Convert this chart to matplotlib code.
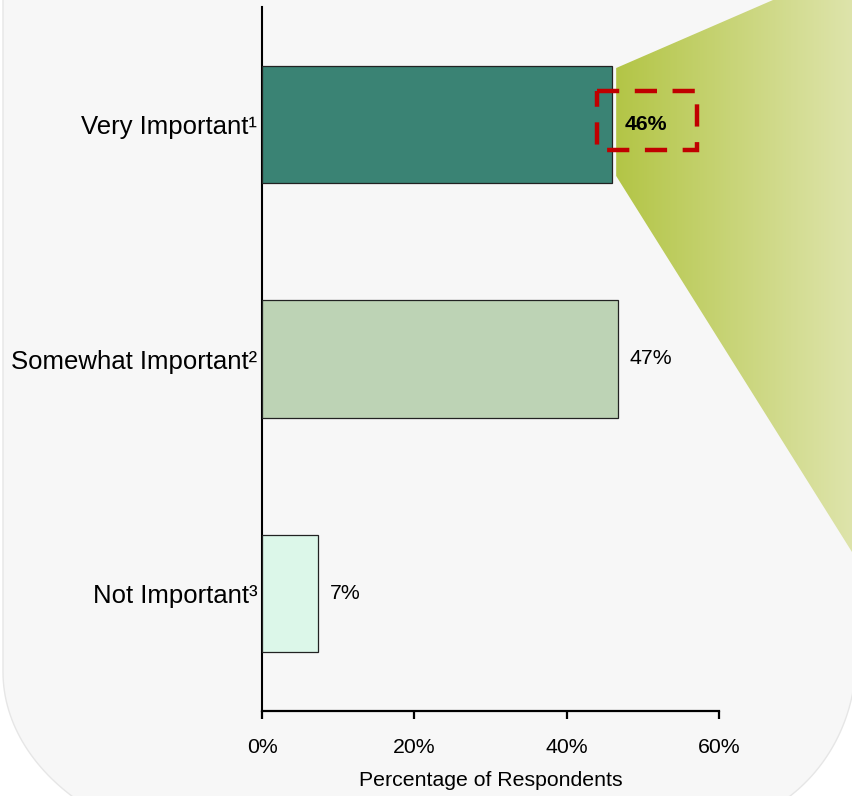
import numpy as np
import matplotlib
matplotlib.use("Agg")
import matplotlib.pyplot as plt
from matplotlib.patches import Polygon, Rectangle
from matplotlib.colors import LinearSegmentedColormap

plt.rcParams['font.family'] = ['Liberation Sans', 'DejaVu Sans']

# datos
categories = ["Very Important¹", "Somewhat Important²", "Not Important³"]
values = [46.0, 46.7, 7.3]
bar_colors = ["#3a8374", "#bdd3b5", "#dcf7e9"]
xticks = [0, 20, 40, 60]
xticklabels = ["0%", "20%", "40%", "60%"]

W, H = 852, 796
fig = plt.figure(figsize=(W / 100, H / 100), dpi=100)
fig.patch.set_facecolor("white")

# eje de fondo en pixeles (y hacia abajo)
bgax = fig.add_axes([0, 0, 1, 1])
bgax.set_zorder(0)
bgax.axis("off")
bgax.set_xlim(0, W)
bgax.set_ylim(H, 0)

# fondo gris con esquinas inferiores redondeadas (elipses)
t = np.linspace(0, np.pi / 2, 60)
left_arc = np.column_stack([253 - 250 * np.cos(t), 672 + 180 * np.sin(t)])
right_arc = np.column_stack([696 + 160 * np.sin(t), 658.5 + 170 * np.cos(t)])
shape = np.vstack([[(3, -10)], left_arc, right_arc, [(856, -10)]])
bgax.add_patch(Polygon(shape, closed=True, facecolor="#f7f7f7", edgecolor="#e6e6e6",
                       linewidth=1.0, zorder=0))

ax = fig.add_axes([262 / W, 85 / H, 457 / W, 704 / H])
ax.set_facecolor("none")
ax.set_zorder(2)

y = np.arange(len(categories))
ax.barh(y, values, height=0.5, color=bar_colors, edgecolor="#222222", linewidth=0.9, zorder=3)
ax.set_xlim(0, 60)
ax.set_ylim(2.5, -0.5)

ax.set_yticks(y)
ax.set_yticklabels(categories, fontsize=18.5)
ax.tick_params(axis="y", length=0, pad=3.5)
ax.set_xticks(xticks)
ax.set_xticklabels(xticklabels, fontsize=15.3)
ax.tick_params(axis="x", length=6, width=1.6, pad=13.5, direction="out")
ax.set_xlabel("Percentage of Respondents", fontsize=15.3, labelpad=10)
for s in ["top", "right"]:
    ax.spines[s].set_visible(False)
ax.spines["left"].set_linewidth(1.5)
ax.spines["bottom"].set_linewidth(1.6)

# etiquetas de valores
for i, v in enumerate(values):
    ax.text(v + 1.6, i, f"{round(v)}%", va="center", ha="left", fontsize=15.3,
            fontweight="bold" if i == 0 else "normal", zorder=5)

# cuña degradada desde la primera barra
to_px = ax.transData + bgax.transData.inverted()
x0, y_top = to_px.transform((values[0] + 0.5, -0.24))
_, y_bot = to_px.transform((values[0] + 0.5, 0.22))
wedge = Polygon([(x0, y_top), (773, 0), (W, 0), (W, 552), (x0, y_bot)], closed=True,
                facecolor="none", edgecolor="none")
bgax.add_patch(wedge)
grad = np.linspace(0, 1, 256).reshape(1, -1)
cmap = LinearSegmentedColormap.from_list("g", ["#b3c546", "#dee4ab"])
im = bgax.imshow(grad, extent=[x0, W, H, 0], aspect="auto", cmap=cmap, zorder=1)
im.set_clip_path(wedge)

# recuadro rojo discontinuo
box = Rectangle((values[0] - 2.0, -0.143), 13.1, 0.252, fill=False, edgecolor="#c00000",
                linewidth=3.2, linestyle=(0, (5, 3.5)), clip_on=False, zorder=6)
ax.add_patch(box)

fig.savefig("out.png", dpi=100)
